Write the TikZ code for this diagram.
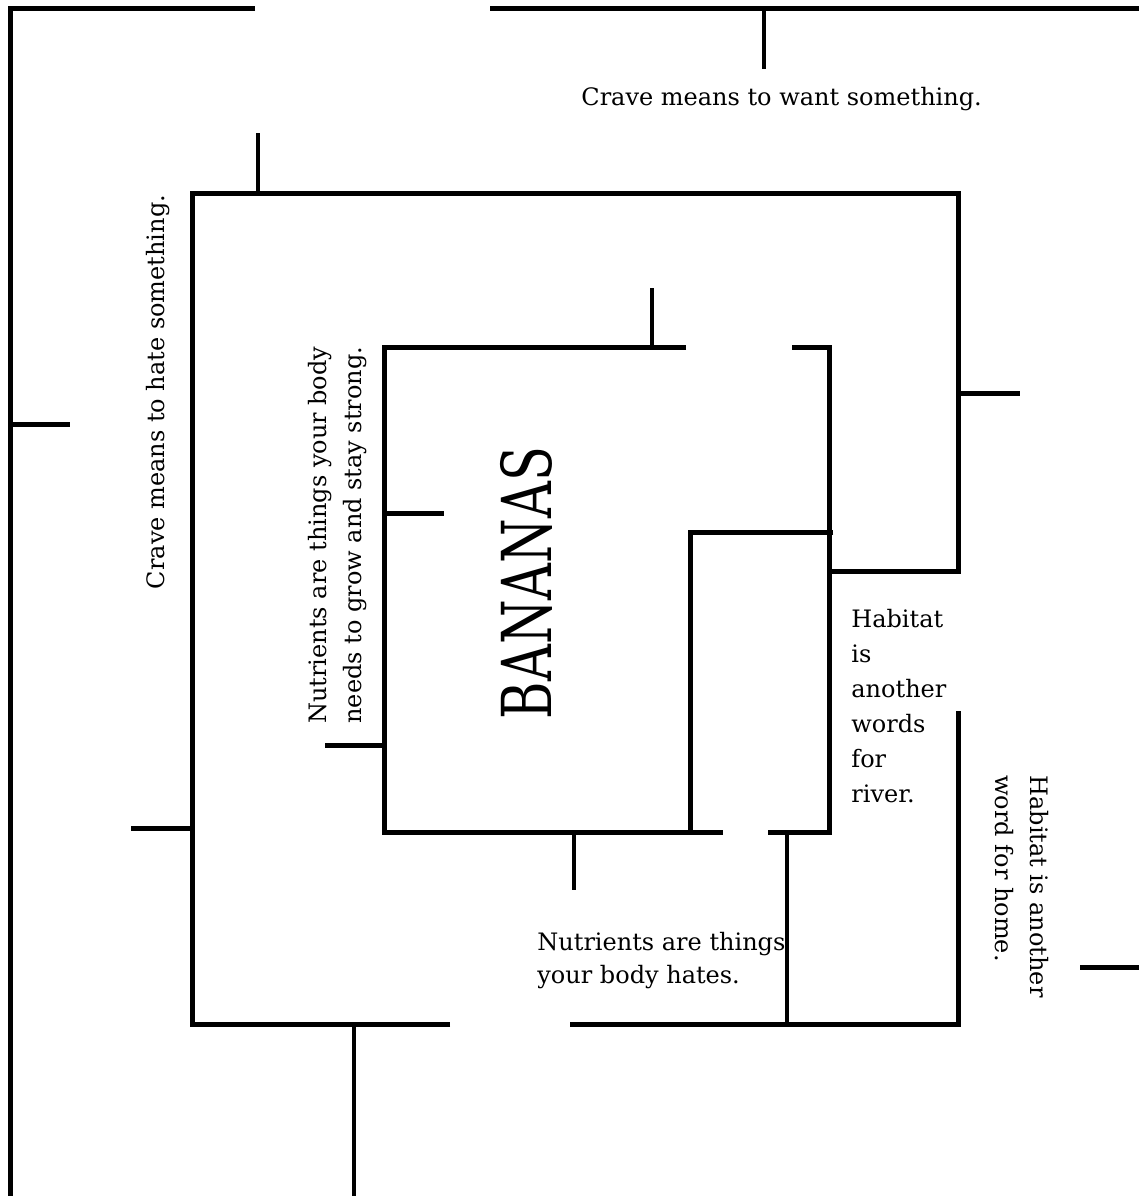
\documentclass[tikz,border=0pt]{standalone}
\usepackage{fontspec}
\setmainfont{DejaVu Serif}
\tikzset{%
  % Specifications for the maze walls and the clue texts
     wall/.style = {line width=2.5pt, line join=miter},
     stub/.style = {line width=2pt},
     clue/.style = {inner sep=0pt, align=left,
                    font=\fontsize{12}{17.5}\selectfont},
   bigword/.style = {inner sep=0pt, font=\fontsize{25.5}{30}\selectfont},
}

\begin{document}
\begin{tikzpicture}[x=0.5pt, y=-0.5pt]
  \useasboundingbox (0,0) rectangle (1139,1196);

  % Outer walls
  \draw[wall] (255,8) -- (10,8) -- (10,1196);
  \draw[wall] (490,8) -- (1139,8);
  \draw[wall] (10,424) -- (70,424);
  \draw[stub] (764,11) -- (764,69);

  % Middle square
  \draw[wall] (450,1024) -- (192,1024) -- (192,193) -- (958,193) -- (958,571) -- (828,571);
  \draw[wall] (570,1024) -- (958,1024) -- (958,711);
  \draw[stub] (258,133) -- (258,193);
  \draw[wall] (958,393) -- (1020,393);
  \draw[wall] (131,828) -- (192,828);
  \draw[stub] (354,1024) -- (354,1196);
  \draw[wall] (1080,967) -- (1139,967);

  % Inner square
  \draw[wall] (686,347) -- (384,347) -- (384,832) -- (723,832);
  \draw[wall] (792,347) -- (829,347) -- (829,832) -- (768,832);
  \draw[stub] (652,288) -- (652,347);
  \draw[wall] (384,513) -- (444,513);
  \draw[wall] (325,745) -- (384,745);
  \draw[stub] (574,832) -- (574,890);
  \draw[wall] (833,532) -- (690,532) -- (690,832);
  \draw[stub] (787,832) -- (787,1022);

  % Clues
  \node (craveWant) [clue, anchor=west] at (581,99) {Crave means to want something.};
  \node (craveHate) [clue, rotate=90] at (158,392) {Crave means to hate something.};
  \node (nutrientsGrow) [clue, rotate=90, anchor=west] at (338,724)
                    {Nutrients are things your body\\
                     needs to grow and stay strong.};
  \node (bananas) [bigword, rotate=90] at (526,583) {\scalebox{1}[1.35]{BANANAS}};
  \node (habitatRiver) [clue, anchor=north west] at (851,609)
                    {Habitat\\ is\\ another\\ words\\ for\\ river.};
  \node (habitatHome) [clue, rotate=-90, anchor=west] at (1022,775)
                    {Habitat is another\\
                     word for home.};
  \node (nutrientsHate) [clue, anchor=north west, font=\fontsize{12}{16.5}\selectfont] at (537,932)
                    {Nutrients are things\\
                     your body hates.};

\end{tikzpicture}
\end{document}
